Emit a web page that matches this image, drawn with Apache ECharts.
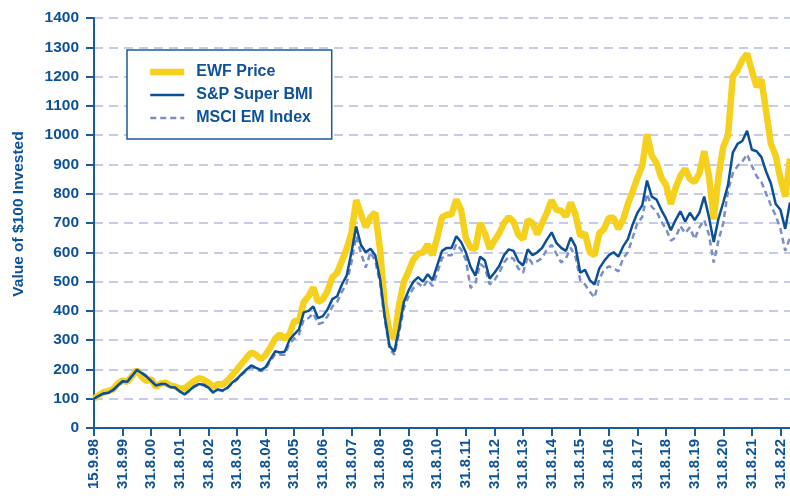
<!DOCTYPE html>
<html>
<head>
<meta charset="utf-8">
<script src="https://cdn.jsdelivr.net/npm/echarts@6/dist/echarts.min.js"></script>
<style>
  html, body { margin: 0; padding: 0; background: #fff; }
  #chart { width: 790px; height: 500px; }
</style>
</head>
<body>
<div id="chart"></div>
<script>
// x ticks, one per year (first is the launch date)
const tickLabels = ['15.9.98', '31.8.99', '31.8.00', '31.8.01', '31.8.02', '31.8.03', '31.8.04',
  '31.8.05', '31.8.06', '31.8.07', '31.8.08', '31.8.09', '31.8.10', '31.8.11', '31.8.12',
  '31.8.13', '31.8.14', '31.8.15', '31.8.16', '31.8.17', '31.8.18', '31.8.19', '31.8.20',
  '31.8.21', '31.8.22']

// values read every two months from the picture
const stepYears = 1 / 6

const ewf = [100, 112, 122, 126, 132, 152, 162, 158, 178, 198, 175, 160, 168, 140, 152, 155, 145, 142, 135, 135,
  148, 160, 170, 165, 155, 140, 150, 148, 162, 180, 200, 220, 240, 258, 250, 235, 250, 275, 305, 320,
  305, 320, 365, 365, 430, 450, 480, 430, 440, 468, 515, 530, 570, 612, 665, 778, 730, 686, 720, 735,
  610, 420, 325, 305, 420, 500, 535, 575, 595, 600, 627, 590, 650, 720, 728, 730, 780, 745, 648, 615,
  612, 700, 665, 612, 640, 665, 700, 720, 705, 660, 645, 710, 700, 662, 700, 735, 778, 745, 742, 722,
  770, 730, 655, 665, 600, 590, 665, 680, 718, 718, 680, 712, 765, 808, 855, 895, 1003, 930, 905, 855,
  830, 765, 820, 860, 885, 850, 840, 870, 945, 860, 712, 860, 960, 1000, 1200, 1222, 1257, 1278, 1220, 1165,
  1190, 1080, 970, 930, 850, 790, 920]

const spBmi = [100, 110, 118, 120, 130, 145, 160, 158, 178, 198, 188, 176, 160, 145, 150, 150, 140, 138, 125, 115,
  128, 142, 150, 148, 138, 122, 132, 128, 138, 155, 168, 185, 200, 214, 205, 198, 208, 235, 262, 258,
  260, 300, 320, 337, 395, 400, 415, 375, 382, 405, 440, 450, 490, 520, 600, 688, 625, 600, 612, 590,
  510, 380, 280, 260, 340, 430, 470, 500, 515, 500, 525, 505, 555, 605, 615, 615, 655, 635, 600, 550,
  520, 585, 572, 510, 530, 553, 590, 610, 605, 570, 555, 610, 590, 600, 615, 643, 668, 632, 615, 605,
  650, 620, 530, 540, 505, 490, 545, 570, 590, 600, 585, 620, 645, 695, 735, 760, 845, 790, 780, 745,
  715, 675, 710, 740, 705, 735, 710, 735, 790, 720, 635, 715, 770, 830, 940, 970, 980, 1015, 950, 945,
  925, 875, 835, 765, 745, 680, 770]

const msci = [100, 110, 117, 120, 128, 143, 158, 160, 180, 200, 190, 178, 162, 146, 150, 148, 140, 136, 124, 114,
  126, 140, 148, 146, 136, 120, 130, 126, 136, 152, 165, 182, 196, 208, 200, 194, 202, 228, 252, 250,
  250, 288, 305, 320, 370, 375, 392, 355, 360, 382, 415, 430, 465, 495, 565, 655, 598, 548, 600, 570,
  495, 370, 270, 250, 325, 410, 450, 478, 495, 480, 505, 485, 530, 580, 590, 590, 628, 610, 575, 478,
  495, 560, 548, 490, 505, 530, 565, 585, 578, 545, 530, 585, 560, 570, 580, 610, 625, 595, 565, 580,
  615, 585, 505, 490, 465, 445, 510, 540, 552, 545, 535, 580, 600, 650, 700, 720, 800, 755, 740, 705,
  680, 640, 650, 690, 665, 685, 645, 685, 710, 660, 565, 640, 700, 810, 870, 895, 910, 935, 895, 860,
  840, 800, 760, 725, 680, 605, 650]

const fontFam = '"Liberation Sans", Arial, sans-serif'
const textBlue = '#0d5299'
const axisBlue = '#1a5a9e'

function toPoints (values) {
  return values.map((v, i) => [i * stepYears, v])
}

let chart = echarts.init(document.getElementById('chart'), null, { renderer: 'canvas' })
chart.setOption({
  animation: false,
  grid: {
    left: 94,
    top: 18,
    width: 697,
    bottom: 72
  },
  legend: {
    orient: 'vertical',
    left: 127,
    top: 50,
    data: ['EWF Price', 'S&P Super BMI', 'MSCI EM Index'],
    backgroundColor: '#fff',
    borderColor: axisBlue,
    borderWidth: 1.5,
    padding: [14, 19, 13, 20],
    itemWidth: 34,
    itemHeight: 8,
    itemGap: 7,
    itemStyle: { opacity: 0 },
    lineStyle: { width: 'inherit' },
    textStyle: {
      color: textBlue,
      fontFamily: fontFam,
      fontWeight: 'bold',
      fontSize: 16,
      padding: [0, 0, 0, 7]
    }
  },
  xAxis: {
    type: 'value',
    min: 0,
    max: (ewf.length - 1) * stepYears,
    interval: 1,
    axisLine: { lineStyle: { color: axisBlue, width: 2 } },
    axisTick: { length: 8, lineStyle: { color: axisBlue, width: 2 } },
    splitLine: { show: false },
    axisLabel: {
      rotate: 90,
      margin: 11,
      showMaxLabel: false,
      color: textBlue,
      fontFamily: fontFam,
      fontWeight: 'bold',
      fontSize: 15,
      formatter: function (v) {
        return tickLabels[Math.round(v)] || ''
      }
    }
  },
  yAxis: {
    type: 'value',
    min: 0,
    max: 1400,
    interval: 100,
    name: 'Value of $100 Invested',
    nameLocation: 'middle',
    nameRotate: 90,
    nameGap: 67,
    nameTextStyle: {
      color: textBlue,
      fontFamily: fontFam,
      fontWeight: 'bold',
      fontSize: 15.5,
      padding: [0, 0, 0, 18]
    },
    axisLine: { show: true, lineStyle: { color: axisBlue, width: 2 } },
    axisTick: { show: true, length: 8, lineStyle: { color: axisBlue, width: 2 } },
    splitLine: {
      lineStyle: { color: '#c6cbe7', width: 2, type: [9, 6] }
    },
    axisLabel: {
      margin: 15,
      color: textBlue,
      fontFamily: fontFam,
      fontWeight: 'bold',
      fontSize: 15.5,
      formatter: function (v) {
        return String(v)
      }
    }
  },
  series: [
    {
      name: 'EWF Price',
      type: 'line',
      symbol: 'none',
      data: toPoints(ewf),
      lineStyle: { color: '#f5d11e', width: 6.5 },
      itemStyle: { color: '#f5d11e' },
      z: 2
    },
    {
      name: 'MSCI EM Index',
      type: 'line',
      symbol: 'none',
      data: toPoints(msci),
      lineStyle: { color: '#7b8ec6', width: 2.5, type: [6, 4] },
      itemStyle: { color: '#7b8ec6' },
      z: 3
    },
    {
      name: 'S&P Super BMI',
      type: 'line',
      symbol: 'none',
      data: toPoints(spBmi),
      lineStyle: { color: '#0b4f97', width: 2.5 },
      itemStyle: { color: '#0b4f97' },
      z: 4
    }
  ]
})
</script>
</body>
</html>
